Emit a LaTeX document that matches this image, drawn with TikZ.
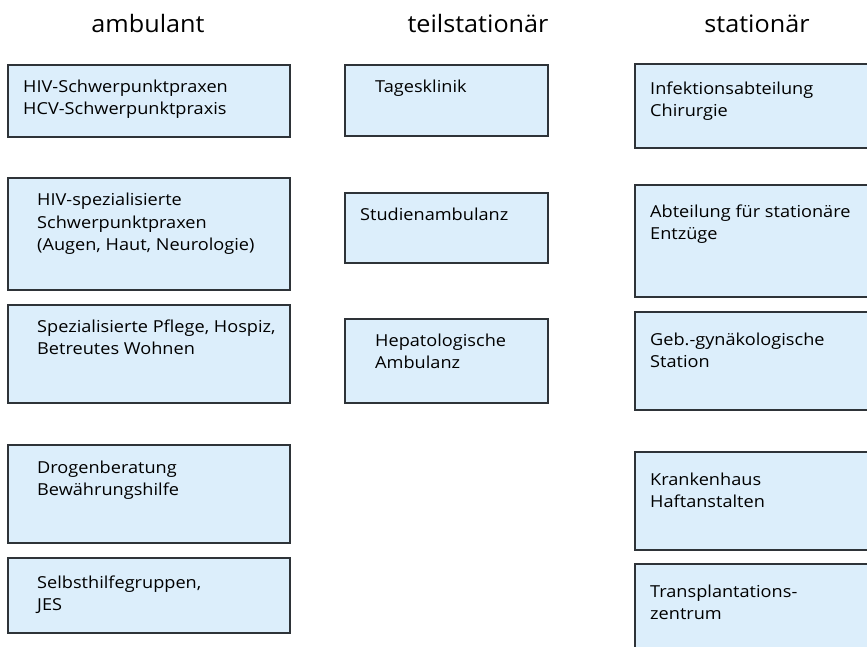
\documentclass[tikz,border=0pt]{standalone}
\usepackage{fontspec}
\setmainfont{Open Sans}
\newfontfamily\boxfont[FakeStretch=1.1]{Open Sans}
\newfontfamily\headfont[FakeStretch=1.05]{Open Sans}
\definecolor{boxfill}{HTML}{DCEEFB}
\definecolor{boxline}{HTML}{2E3338}
\begin{document}
\begin{tikzpicture}[x=1pt,y=-1pt,
  box/.style={draw=boxline, fill=boxfill, line width=1.4pt, anchor=north west, inner sep=0pt, outer sep=0pt},
  txt/.style={anchor=base west, align=left, inner sep=0pt, font=\boxfont\fontsize{16.5}{22}\selectfont},
  head/.style={anchor=base, inner sep=0pt, font=\headfont\fontsize{24}{28}\selectfont}]
\useasboundingbox (0,0) rectangle (867,647);
% headings
\node[head] (h1) at (148,33) {ambulant};
\node[head] (h2) at (478,33) {teilstationär};
\node[head] (h3) at (757,33) {stationär};
% left column
\node[box, minimum width=282pt, minimum height=72pt] (L1) at (8,65) {};
\node[box, minimum width=282pt, minimum height=112pt] (L2) at (8,178) {};
\node[box, minimum width=282pt, minimum height=98pt] (L3) at (8,305) {};
\node[box, minimum width=282pt, minimum height=98pt] (L4) at (8,445) {};
\node[box, minimum width=282pt, minimum height=75pt] (L5) at (8,558) {};
% middle column
\node[box, minimum width=203pt, minimum height=71pt] (M1) at (345,65) {};
\node[box, minimum width=203pt, minimum height=70pt] (M2) at (345,193) {};
\node[box, minimum width=203pt, minimum height=84pt] (M3) at (345,319) {};
% right column
\node[box, minimum width=240pt, minimum height=84pt] (R1) at (635,64) {};
\node[box, minimum width=240pt, minimum height=112pt] (R2) at (635,185) {};
\node[box, minimum width=240pt, minimum height=98pt] (R3) at (635,312) {};
\node[box, minimum width=240pt, minimum height=98pt] (R4) at (635,452) {};
\node[box, minimum width=240pt, minimum height=100pt] (R5) at (635,564) {};
% texts (anchor = baseline of last line)
\node[txt] (tL1) at (23,115) {HIV-Schwerpunktpraxen\\HCV-Schwerpunktpraxis};
\node[txt] (tL2) at (37,250) {HIV-spezialisierte\\Schwerpunktpraxen\\(Augen, Haut, Neurologie)};
\node[txt] (tL3) at (37,354) {Spezialisierte Pflege, Hospiz,\\Betreutes Wohnen};
\node[txt] (tL4) at (37,495) {Drogenberatung\\Bewährungshilfe};
\node[txt] (tL5) at (37,610) {Selbsthilfegruppen,\\JES};
\node[txt] (tM1) at (375,93) {Tagesklinik};
\node[txt] (tM2) at (360,220) {Studienambulanz};
\node[txt] (tM3) at (375,368) {Hepatologische\\Ambulanz};
\node[txt] (tR1) at (650,117) {Infektionsabteilung\\Chirurgie};
\node[txt] (tR2) at (650,240) {Abteilung für stationäre\\Entzüge};
\node[txt] (tR3) at (650,367) {Geb.-gynäkologische\\Station};
\node[txt] (tR4) at (650,507) {Krankenhaus\\Haftanstalten};
\node[txt] (tR5) at (650,619) {Transplantations-\\zentrum};
\end{tikzpicture}
\end{document}
